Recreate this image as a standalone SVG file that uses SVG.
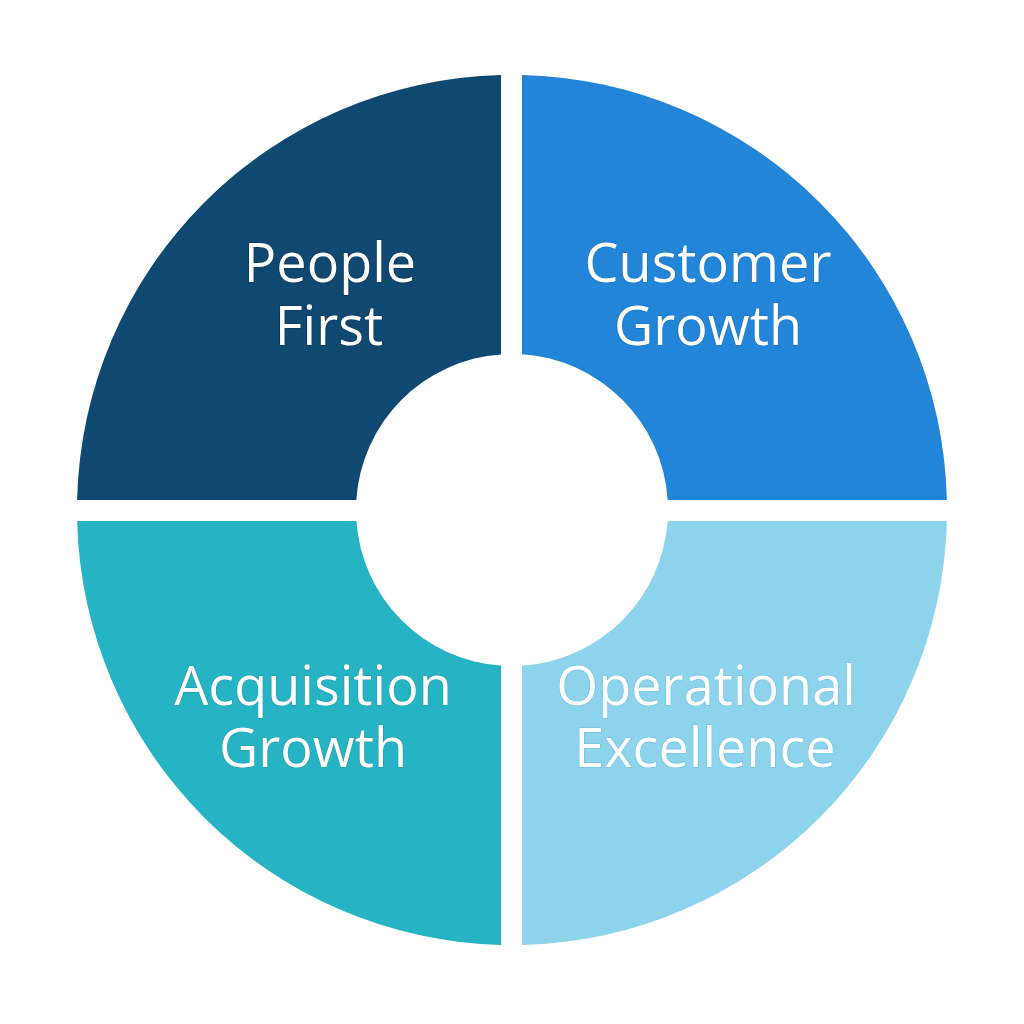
<svg xmlns="http://www.w3.org/2000/svg" width="1024" height="1024" viewBox="0 0 1024 1024">
<style>
.lbl{font-family:"Open Sans","Liberation Sans",sans-serif;font-size:54px;fill:#ffffff;text-anchor:middle;stroke-width:1.2;paint-order:stroke}
</style>
<rect width="1024" height="1024" fill="#ffffff"/>
<g id="people-first">
<path d="M 501 75.1 A 435 435 0 0 0 77.1 500 L 356.3 500 A 156 156 0 0 1 501 354.4 Z" fill="#0f4870"/>
<text class="lbl" x="330" y="282" stroke="#0a3558">People</text>
<text class="lbl" x="329" y="345" stroke="#0a3558">First</text>
</g>
<g id="customer-growth">
<path d="M 522 75.1 A 435 435 0 0 1 946.9 500 L 667.7 500 A 156 156 0 0 0 522 354.3 Z" fill="#2285d8"/>
<text class="lbl" x="708" y="282" stroke="#1a70bd">Customer</text>
<text class="lbl" x="708" y="345" stroke="#1a70bd">Growth</text>
</g>
<g id="acquisition-growth">
<path d="M 77.1 521 A 435 435 0 0 0 501 944.9 L 501 665.6 A 156 156 0 0 1 356.4 521 Z" fill="#26b3c3"/>
<text class="lbl" x="313" y="705" stroke="#1e9cab">Acquisition</text>
<text class="lbl" x="313" y="767" stroke="#1e9cab">Growth</text>
</g>
<g id="operational-excellence">
<path d="M 946.9 521 A 435 435 0 0 1 522 944.9 L 522 665.7 A 156 156 0 0 0 667.6 521 Z" fill="#8dd3ec"/>
<text class="lbl" x="706" y="705" stroke="#6fc0e0">Operational</text>
<text class="lbl" x="705" y="767" stroke="#6fc0e0">Excellence</text>
</g>
</svg>
